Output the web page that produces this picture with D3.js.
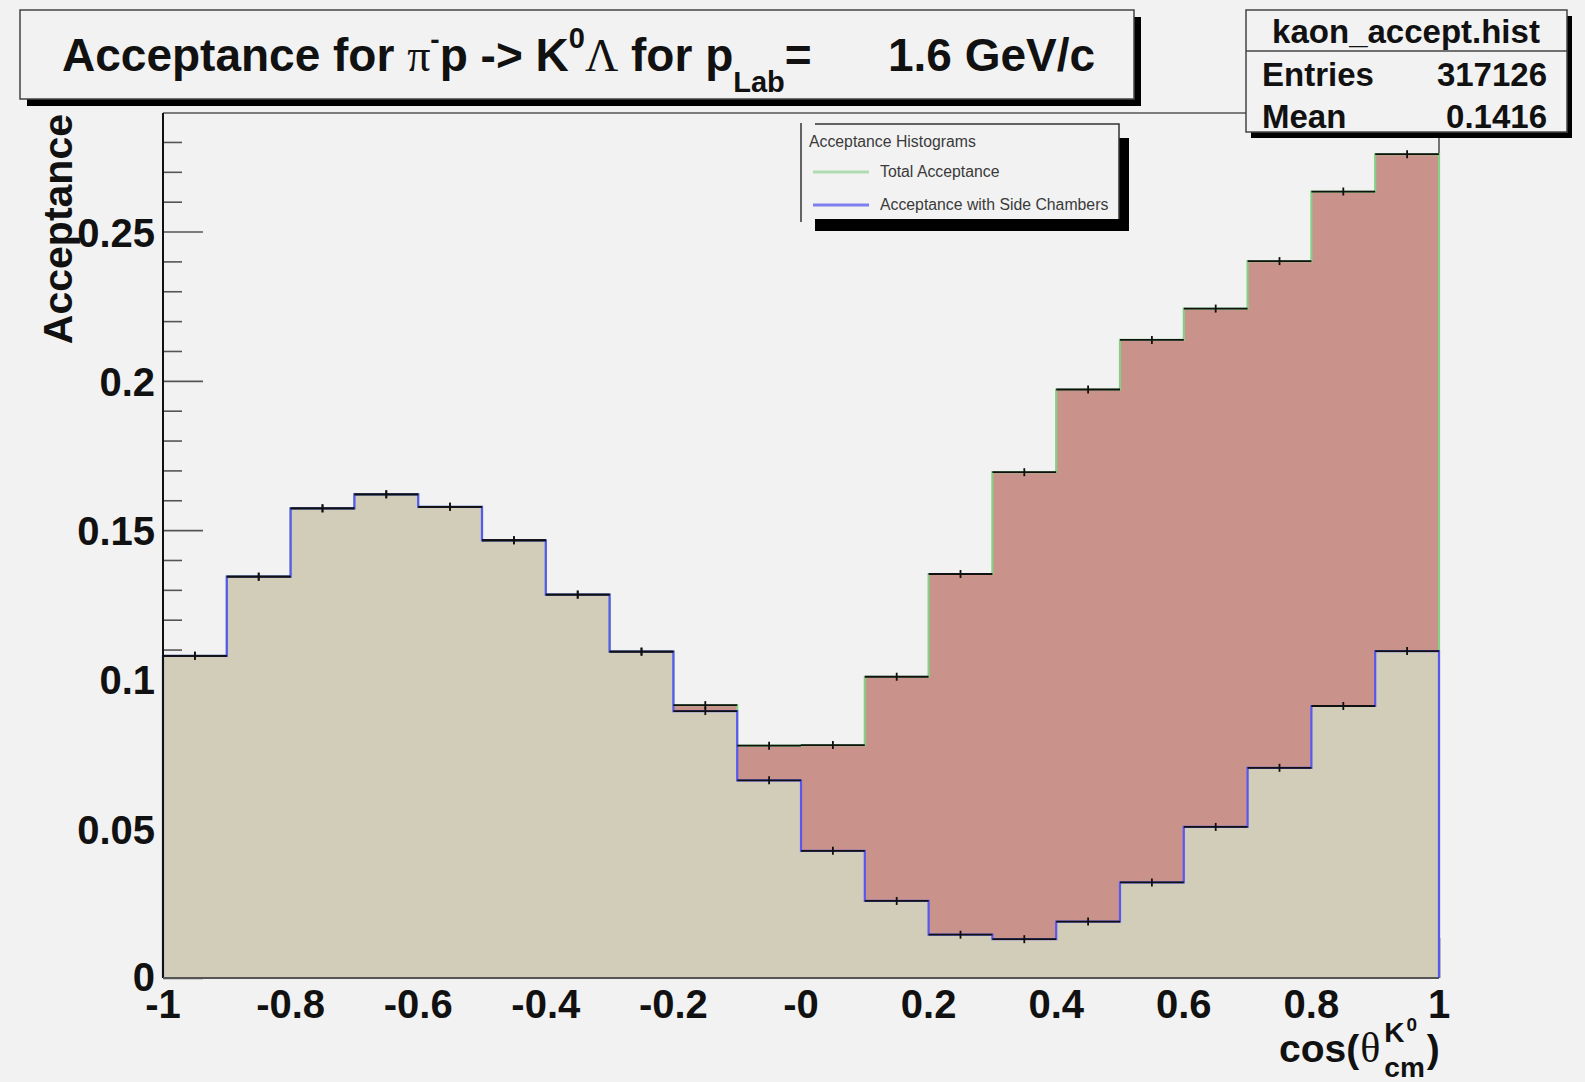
<!DOCTYPE html>
<html>
<head>
<meta charset="utf-8">
<script src="https://cdn.jsdelivr.net/npm/d3@7"></script>
<style>
  html, body { margin: 0; padding: 0; background: #f2f2f2; }
  svg { display: block; }
</style>
</head>
<body>
<svg id="canvas" width="1585" height="1082"></svg>
<script>
// ---- histogram data: kaon acceptance vs cos(theta_cm) ----
const binEdges = [-1, -0.9, -0.8, -0.7, -0.6, -0.5, -0.4, -0.3, -0.2, -0.1, 0,
                  0.1, 0.2, 0.3, 0.4, 0.5, 0.6, 0.7, 0.8, 0.9, 1];
const totalAcceptance = [0.1079, 0.1344, 0.1573, 0.1620, 0.1578, 0.1466, 0.1284, 0.1093, 0.0914, 0.0778,
                         0.0780, 0.1009, 0.1353, 0.1694, 0.1971, 0.2137, 0.2242, 0.2401, 0.2634, 0.2759];
const sideChamberAcceptance = [0.1079, 0.1344, 0.1573, 0.1620, 0.1578, 0.1466, 0.1284, 0.1093, 0.0894, 0.0662,
                               0.0426, 0.0258, 0.0145, 0.0130, 0.0189, 0.0320, 0.0506, 0.0704, 0.0911, 0.1095];

const xTickValues = [-1, -0.8, -0.6, -0.4, -0.2, 0, 0.2, 0.4, 0.6, 0.8, 1];
const xTickLabels = ["-1", "-0.8", "-0.6", "-0.4", "-0.2", "-0", "0.2", "0.4", "0.6", "0.8", "1"];
const yTickValues = [0, 0.05, 0.1, 0.15, 0.2, 0.25];
const yTickLabels = ["0", "0.05", "0.1", "0.15", "0.2", "0.25"];
const yMinorStep = 0.01;
const yMax = 0.2897;

const statsTitle = "kaon_accept.hist";
const statsNames = ["Entries", "Mean"];
const statsValues = ["317126", "0.1416"];

const legendHeader = "Acceptance Histograms";
const legendLabels = ["Total Acceptance", "Acceptance with Side Chambers"];

// ---- styling ----
const SANS = "'Liberation Sans', Arial, Helvetica, sans-serif";
const SERIF = "'Liberation Serif', 'Times New Roman', serif";
const colTotalFill = "#c9928a";
const colTotalLine = "#86cf86";
const colSideFill = "#d2cdb9";
const colSideLine = "#5858f0";
const bg = "#f2f2f2";

const svg = d3.select("#canvas");
svg.append("rect").attr("width", 1585).attr("height", 1082).attr("fill", bg);

const frame = { left: 163, right: 1439, top: 113, bottom: 978 };
const x = d3.scaleLinear().domain([-1, 1]).range([frame.left, frame.right]);
const y = d3.scaleLinear().domain([0, yMax]).range([frame.bottom, frame.top]);

// frame outline (top and right)
svg.append("path")
  .attr("d", `M${frame.left},${frame.top}H${frame.right}V${frame.bottom}`)
  .attr("fill", "none").attr("stroke", "#555").attr("stroke-width", 1.6);

// y ticks pointing into the frame (drawn under the histograms)
const minorTicks = d3.range(0, yMax, yMinorStep).filter(v => !yTickValues.some(m => Math.abs(m - v) < 1e-6));
const yMinorAxis = d3.axisRight(y).tickValues(minorTicks).tickSize(19).tickFormat("");
const yMajorAxis = d3.axisRight(y).tickValues(yTickValues).tickSize(40).tickFormat("");
[yMinorAxis, yMajorAxis].forEach(ax => {
  const g = svg.append("g").attr("transform", `translate(${frame.left},0)`).call(ax);
  g.select(".domain").remove();
  g.selectAll("line").attr("stroke", "#555").attr("stroke-width", 1.6);
});
// x ticks pointing up
const xMajorAxis = d3.axisTop(x).tickValues(xTickValues).tickSize(40).tickFormat("");
const gx = svg.append("g").attr("transform", `translate(0,${frame.bottom})`).call(xMajorAxis);
gx.select(".domain").remove();
gx.selectAll("line").attr("stroke", "#555").attr("stroke-width", 1.6);

// histogram geometry helpers
function stepPoints(values) {
  const pts = values.map((v, i) => [binEdges[i], v]);
  pts.push([binEdges[binEdges.length - 1], values[values.length - 1]]);
  return pts;
}
const area = d3.area().curve(d3.curveStepAfter)
  .x(d => x(d[0])).y0(y(0)).y1(d => y(d[1]));
const outline = d3.line().curve(d3.curveStepAfter)
  .x(d => x(d[0])).y(d => y(d[1]));
function outlinePoints(values) {
  return [[binEdges[0], 0], ...stepPoints(values), [binEdges[binEdges.length - 1], 0]];
}

// total acceptance
svg.append("path").attr("d", area(stepPoints(totalAcceptance))).attr("fill", colTotalFill);
// side chamber acceptance
svg.append("path").attr("d", area(stepPoints(sideChamberAcceptance))).attr("fill", colSideFill);

svg.append("path").attr("d", outline(outlinePoints(totalAcceptance)))
  .attr("fill", "none").attr("stroke", colTotalLine).attr("stroke-width", 2.2);
svg.append("path").attr("d", outline(outlinePoints(sideChamberAcceptance)))
  .attr("fill", "none").attr("stroke", colSideLine).attr("stroke-width", 2.2);

// error-bar markers for each bin
function errorBars(values) {
  const g = svg.append("g").attr("stroke", "#111").attr("stroke-width", 1.8);
  values.forEach((v, i) => {
    const x0 = x(binEdges[i]), x1 = x(binEdges[i + 1]), yc = y(v);
    g.append("line").attr("x1", x0).attr("x2", x1).attr("y1", yc).attr("y2", yc);
    const xc = (x0 + x1) / 2;
    g.append("line").attr("x1", xc).attr("x2", xc).attr("y1", yc - 4).attr("y2", yc + 4);
  });
}
errorBars(totalAcceptance);
errorBars(sideChamberAcceptance);

// axis lines
svg.append("line").attr("x1", frame.left).attr("x2", frame.left)
  .attr("y1", frame.top).attr("y2", frame.bottom).attr("stroke", "#111").attr("stroke-width", 2);
svg.append("line").attr("x1", frame.left).attr("x2", frame.right)
  .attr("y1", frame.bottom).attr("y2", frame.bottom).attr("stroke", "#555").attr("stroke-width", 2);

// y tick labels
svg.append("g").selectAll("text").data(yTickValues).join("text")
  .attr("x", 155).attr("y", d => y(d) + (d === 0 ? 13 : 15))
  .attr("text-anchor", "end")
  .attr("font-family", SANS).attr("font-weight", "bold").attr("font-size", 40)
  .attr("fill", "#111")
  .text((d, i) => yTickLabels[i]);

// x tick labels
svg.append("g").selectAll("text").data(xTickValues).join("text")
  .attr("x", d => x(d)).attr("y", 1018)
  .attr("text-anchor", "middle")
  .attr("font-family", SANS).attr("font-weight", "bold").attr("font-size", 40)
  .attr("fill", "#111")
  .text((d, i) => xTickLabels[i]);

// y axis title
svg.append("text")
  .attr("transform", "translate(72,114) rotate(-90)")
  .attr("text-anchor", "end")
  .attr("font-family", SANS).attr("font-weight", "bold").attr("font-size", 41)
  .attr("fill", "#111")
  .text("Acceptance");

// x axis title: cos(θ^{K0}_{cm})
(function () {
  const g = svg.append("g").attr("font-family", SANS).attr("font-weight", "bold").attr("fill", "#111");
  const base = 1062;
  const x0 = 1279;
  const t1 = g.append("text").attr("x", x0).attr("y", base).attr("font-size", 39).text("cos(");
  const w1 = t1.node().getComputedTextLength();
  const th = g.append("text").attr("x", x0 + w1 + 1).attr("y", base).attr("font-size", 42)
    .attr("font-family", SERIF).attr("font-weight", "normal").text("θ");
  const xs = x0 + w1 + th.node().getComputedTextLength() + 5;
  const k = g.append("text").attr("x", xs).attr("y", base - 20).attr("font-size", 28).text("K");
  const kw = k.node().getComputedTextLength();
  g.append("text").attr("x", xs + kw + 2).attr("y", base - 31).attr("font-size", 19).text("0");
  const cm = g.append("text").attr("x", xs).attr("y", base + 15).attr("font-size", 28).text("cm");
  const cw = cm.node().getComputedTextLength();
  g.append("text").attr("x", xs + Math.max(cw, kw + 12) + 2).attr("y", base).attr("font-size", 39).text(")");
})();

// legend
(function () {
  const L = { x: 815, y: 124, w: 304, h: 95 };
  svg.append("rect").attr("x", L.x).attr("y", L.y + 14).attr("width", L.w + 10).attr("height", L.h - 2)
    .attr("fill", "#000");
  svg.append("rect").attr("x", L.x).attr("y", L.y).attr("width", L.w).attr("height", L.h)
    .attr("fill", bg);
  svg.append("path").attr("d", `M${L.x},${L.y}H${L.x + L.w}V${L.y + L.h}`)
    .attr("fill", "none").attr("stroke", "#333").attr("stroke-width", 1.5);
  svg.append("line").attr("x1", 801).attr("x2", 801).attr("y1", 123).attr("y2", 222)
    .attr("stroke", "#333").attr("stroke-width", 1.5);
  const g = svg.append("g").attr("font-family", SANS).attr("font-size", 15.8).attr("fill", "#3a3a3a");
  g.append("text").attr("x", 809).attr("y", 147).text(legendHeader);
  const cols = [colTotalLine, colSideLine];
  const rows = [172, 205];
  legendLabels.forEach((lab, i) => {
    g.append("line").attr("x1", 813).attr("x2", 869).attr("y1", rows[i]).attr("y2", rows[i])
      .attr("stroke", cols[i]).attr("stroke-width", 3).attr("opacity", i === 0 ? 0.6 : 0.75);
    g.append("text").attr("x", 880).attr("y", rows[i] + 5).text(lab);
  });
})();

// title box
(function () {
  const B = { x: 20, y: 10, w: 1114, h: 89 };
  svg.append("rect").attr("x", B.x + 7).attr("y", B.y + 7).attr("width", B.w).attr("height", B.h).attr("fill", "#000");
  svg.append("rect").attr("x", B.x).attr("y", B.y).attr("width", B.w).attr("height", B.h)
    .attr("fill", bg).attr("stroke", "#444").attr("stroke-width", 1.5);
  const t = svg.append("text").attr("x", 62).attr("y", 71)
    .attr("font-family", SANS).attr("font-weight", "bold").attr("font-size", 46).attr("fill", "#111");
  t.append("tspan").text("Acceptance for ");
  t.append("tspan").attr("font-family", SERIF).attr("font-weight", "normal").text("π");
  t.append("tspan").attr("font-size", 28).attr("dy", -22).text("-");
  t.append("tspan").attr("dy", 22).text("p -> K");
  t.append("tspan").attr("font-size", 29).attr("dy", -23).text("0");
  t.append("tspan").attr("dy", 23).attr("font-family", SERIF).attr("font-weight", "normal").text("Λ");
  t.append("tspan").text(" for p");
  t.append("tspan").attr("font-size", 29).attr("dy", 21).text("Lab");
  t.append("tspan").attr("dy", -21).text("=");
  t.append("tspan").attr("x", 888).text("1.6 GeV/c");
})();

// statistics box
(function () {
  const S = { x: 1246, y: 10, w: 321, h: 122 };
  svg.append("rect").attr("x", S.x + 5).attr("y", S.y + 6).attr("width", S.w).attr("height", S.h).attr("fill", "#000");
  svg.append("rect").attr("x", S.x).attr("y", S.y).attr("width", S.w).attr("height", S.h)
    .attr("fill", bg).attr("stroke", "#444").attr("stroke-width", 1.5);
  svg.append("line").attr("x1", S.x).attr("x2", S.x + S.w).attr("y1", 51).attr("y2", 51)
    .attr("stroke", "#444").attr("stroke-width", 1.5);
  const g = svg.append("g").attr("font-family", SANS).attr("font-weight", "bold").attr("font-size", 33).attr("fill", "#111");
  g.append("text").attr("x", 1406).attr("y", 43).attr("text-anchor", "middle").text(statsTitle);
  const rows = [86, 128];
  statsNames.forEach((n, i) => {
    g.append("text").attr("x", 1262).attr("y", rows[i]).text(n);
    g.append("text").attr("x", 1547).attr("y", rows[i]).attr("text-anchor", "end").text(statsValues[i]);
  });
})();
</script>
</body>
</html>
